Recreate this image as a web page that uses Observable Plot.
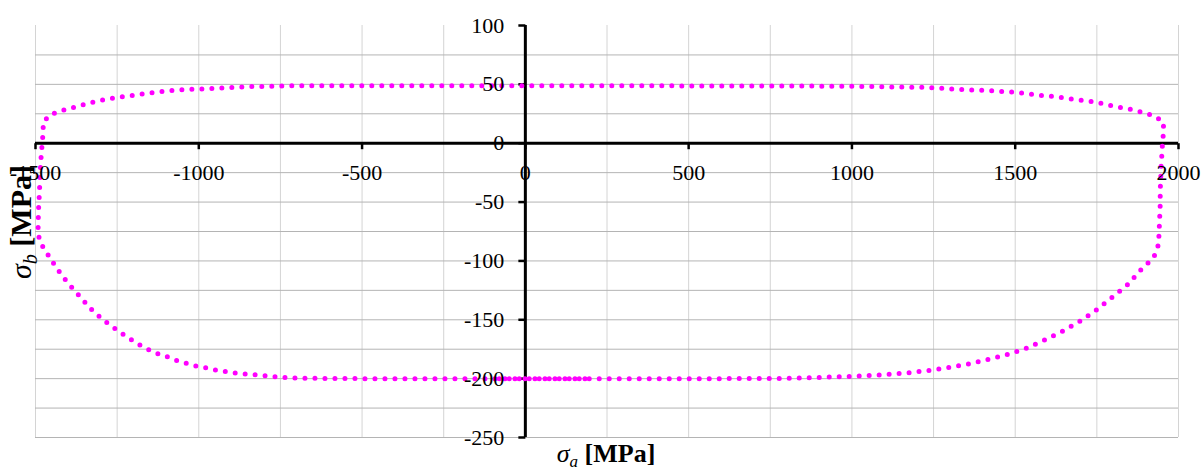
<!DOCTYPE html>
<html>
<head>
<meta charset="utf-8">
<script src="https://cdn.jsdelivr.net/npm/d3@7"></script>
<script src="https://cdn.jsdelivr.net/npm/@observablehq/plot@0.6"></script>
<style>
html, body { margin: 0; padding: 0; background: #fff; overflow: hidden; }
svg { display: block; }
</style>
</head>
<body>
<div id="chart"></div>
<script>
// σa [MPa] values along the closed failure envelope (traced in order)
const sigmaA = [
  -80, 0, 200, 400, 600, 800, 900, 973, 1046, 1107, 1168, 1230, 1291, 1352, 1412, 1471,
  1530, 1588, 1643, 1696, 1747, 1795, 1844, 1886, 1908, 1927, 1937, 1940, 1942, 1944,
  1944, 1946, 1947, 1949, 1951, 1954, 1954, 1932, 1903, 1873, 1842, 1811, 1783, 1752,
  1722, 1691, 1660, 1630, 1597, 1566, 1536, 1505, 1475, 1444, 1413, 1383, 1352, 1321,
  1291, 1260, 1228, 1163, 1000, 800, 500, 0, -500, -700, -852, -944, -1005, -1066,
  -1127, -1189, -1250, -1311, -1370, -1432, -1459, -1476, -1477, -1479, -1482, -1484,
  -1486, -1487, -1488, -1490, -1491, -1492, -1492, -1485, -1467, -1451, -1434, -1416,
  -1396, -1375, -1355, -1335, -1312, -1289, -1264, -1240, -1213, -1188, -1160, -1133,
  -1103, -1074, -1046, -1015, -985, -954, -924, -893, -857, -823, -792, -762, -731,
  -700, -500, -200, 0, 190
];
// σb [MPa] values, paired with sigmaA
const sigmaB = [
  -200, -200, -200, -200, -200, -199.8, -199, -198.3, -197.5, -196.4, -195.2, -193.2,
  -190.9, -187.8, -184.1, -179.9, -174.7, -167.4, -160, -151.7, -142, -131.3, -120.2,
  -107.2, -101.5, -95.2, -87.5, -79, -66, -52, -40, -27, -18.5, -10, 0, 9, 17.6, 22.2,
  25.2, 27.5, 29.5, 30.9, 32.6, 34.6, 36, 36.9, 38, 39.2, 40.3, 40.9, 42, 43.1, 43.7,
  44.3, 44.9, 45.2, 45.4, 45.7, 46.3, 46.9, 47.4, 47.6, 48.4, 48.6, 48.7, 48.8, 48.8,
  48.8, 48, 46.6, 46, 45.2, 43.5, 41.2, 38.9, 35.8, 31.5, 26.7, 23.5, 17.6, 9, 0.5,
  -8, -17, -26, -34, -43, -51, -60, -68, -77, -84.7, -92.4, -99.5, -106.5, -113.4,
  -120.2, -126.7, -133, -139.5, -145.5, -150.9, -156, -160.8, -165.7, -170.2, -174.5,
  -178.1, -180.7, -184.1, -186.4, -189, -190.4, -192.4, -193.8, -195.2, -196, -196.9,
  -197.7, -198.6, -199.2, -199.6, -200, -200, -200, -200
];

const xTickValues = [-1500, -1000, -500, 0, 500, 1000, 1500, 2000];
const yTickValues = [100, 50, 0, -50, -100, -150, -200, -250];
const xGridValues = [-1500, -1250, -1000, -750, -500, -250, 0, 250, 500, 750, 1000, 1250, 1500, 1750, 2000];
const yGridValues = [-250, -225, -200, -175, -150, -125, -100, -75, -50, -25, 0, 25, 50, 75];

const xTitleParts = ["σ", "a", " [MPa]"];
const yTitleParts = ["σ", "b", " [MPa]"];

const points = sigmaA.map((a, i) => ({a, b: sigmaB[i]}));
const serif = "'Liberation Serif', 'Times New Roman', serif";

const tickDown = {draw(ctx) { ctx.moveTo(0, 0); ctx.lineTo(0, 6); }};
const tickLeft = {draw(ctx) { ctx.moveTo(0, 0); ctx.lineTo(-7, 0); }};

const chart = Plot.plot({
  width: 1203,
  height: 472,
  marginLeft: 35,
  marginRight: 25,
  marginTop: 25,
  marginBottom: 35,
  x: {domain: [-1500, 2000], axis: null},
  y: {domain: [-250, 100], axis: null},
  style: {background: "#fff", fontFamily: serif, overflow: "visible"},
  marks: [
    Plot.ruleX(xGridValues, {x: d => d, stroke: "#d4d4d4", strokeWidth: 1}),
    Plot.ruleY(yGridValues, {y: d => d, stroke: "#b4b4b4", strokeWidth: 1}),
    Plot.ruleY([0], {y: d => d, stroke: "#000", strokeWidth: 3}),
    Plot.ruleX([0], {x: d => d, stroke: "#000", strokeWidth: 3}),
    Plot.dot(xTickValues, {x: d => d, y: 0, symbol: tickDown, stroke: "#000", fill: "none", strokeWidth: 2.5}),
    Plot.dot(yTickValues, {x: 0, y: d => d, symbol: tickLeft, stroke: "#000", fill: "none", strokeWidth: 2.5}),
    Plot.line(points, {x: "a", y: "b", stroke: "#ff00ff", strokeWidth: 5, strokeDasharray: "0 10", strokeLinecap: "round", strokeLinejoin: "round"}),
    Plot.text(xTickValues, {x: d => d, y: 0, text: d => String(d), dy: 30, fontSize: 22, fill: "#000", fontFamily: serif}),
    Plot.text(yTickValues, {x: 0, y: d => d, text: d => String(d), dx: -21, textAnchor: "end", fontSize: 22, fill: "#000", fontFamily: serif})
  ]
});

const svg = d3.select(chart);

function addTitle(parts, transform, size) {
  const t = svg.append("text")
    .attr("transform", transform)
    .attr("text-anchor", "middle")
    .attr("font-family", serif)
    .attr("font-size", size)
    .attr("font-weight", "bold")
    .attr("fill", "#000");
  t.append("tspan").attr("font-style", "italic").attr("font-weight", "normal").text(parts[0]);
  t.append("tspan").attr("font-style", "italic").attr("font-weight", "normal")
    .attr("font-size", Math.round(size * 0.65)).attr("dy", size * 0.2).text(parts[1]);
  t.append("tspan").attr("dy", -size * 0.2).text(parts[2]);
}
addTitle(xTitleParts, "translate(606,462)", 26);
addTitle(yTitleParts, "translate(31,222) rotate(-90)", 30);

document.getElementById("chart").appendChild(chart);
</script>
</body>
</html>
